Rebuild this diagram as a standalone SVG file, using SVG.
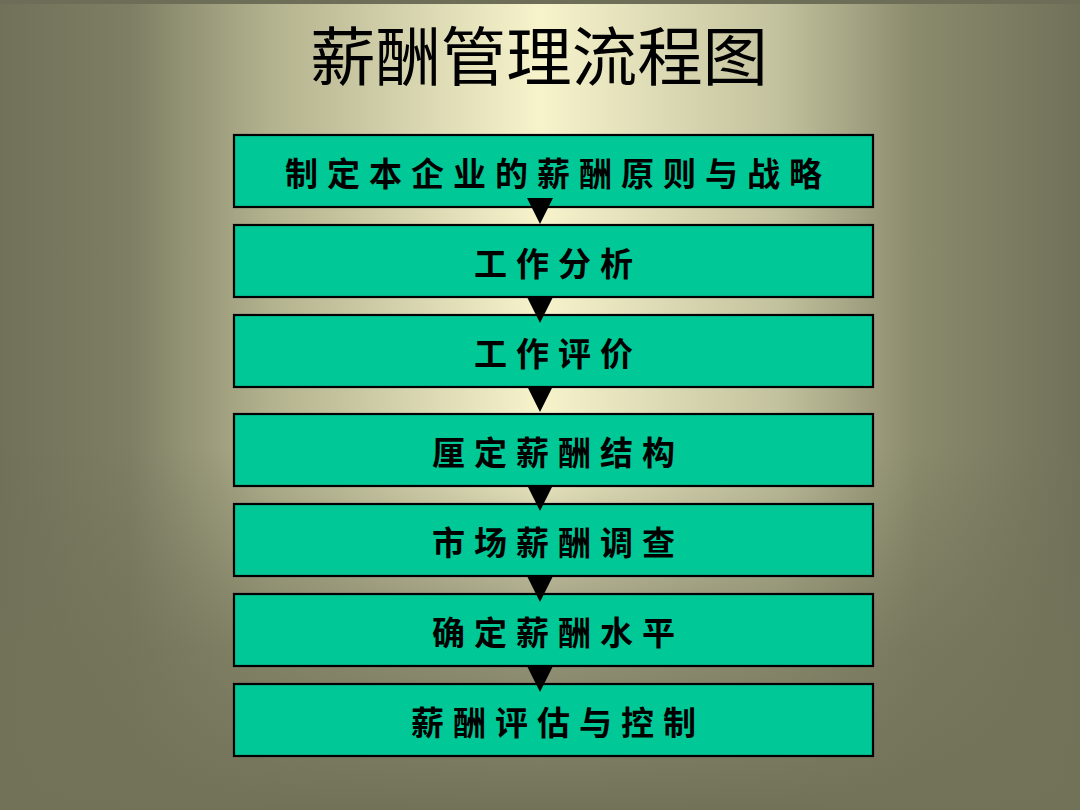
<svg xmlns="http://www.w3.org/2000/svg" width="1080" height="810" viewBox="0 0 1080 810">
<defs>
<linearGradient id="bgx" x1="0" y1="0" x2="1" y2="0">
<stop offset="0" stop-color="#71715a"/>
<stop offset="0.12" stop-color="#7e7e64"/>
<stop offset="0.25" stop-color="#b3b28e"/>
<stop offset="0.5" stop-color="#f7f4cc"/>
<stop offset="0.72" stop-color="#c3c29e"/>
<stop offset="0.85" stop-color="#8a8a6c"/>
<stop offset="1" stop-color="#71715a"/>
</linearGradient>
<linearGradient id="bgy" x1="0" y1="0" x2="0" y2="1">
<stop offset="0" stop-color="#6f6f58" stop-opacity="0"/>
<stop offset="0.55" stop-color="#6f6f58" stop-opacity="0"/>
<stop offset="0.8" stop-color="#727259" stop-opacity="0.75"/>
<stop offset="1" stop-color="#727259" stop-opacity="1"/>
</linearGradient>
<style>
.box{fill:#00c896;stroke:#000;stroke-width:2.2}
.lbl{font-family:"Noto Sans CJK SC","Noto Sans CJK JP",sans-serif;font-weight:bold;font-size:33px;fill:#000;text-anchor:middle;dominant-baseline:central;letter-spacing:9px}
.arr{fill:#000}
.title{font-family:"Noto Sans CJK SC",sans-serif;font-weight:400;font-size:64px;fill:#000;text-anchor:middle}
</style>
</defs>
<rect x="0" y="0" width="1080" height="810" fill="url(#bgx)"/>
<rect x="0" y="0" width="1080" height="810" fill="url(#bgy)"/>
<rect x="0" y="0" width="1080" height="4" fill="#6e6e58"/>
<text class="title" x="539" y="80" textLength="458" lengthAdjust="spacingAndGlyphs">薪酬管理流程图</text>
<g id="n1"><rect class="box" x="234" y="135" width="639" height="72"/><text class="lbl" x="558" y="172">制定本企业的薪酬原则与战略</text></g>
<g id="n2"><rect class="box" x="234" y="225" width="639" height="72"/><text class="lbl" x="558" y="262">工作分析</text></g>
<g id="n3"><rect class="box" x="234" y="315" width="639" height="72"/><text class="lbl" x="558" y="352">工作评价</text></g>
<g id="n4"><rect class="box" x="234" y="414" width="639" height="72"/><text class="lbl" x="558" y="451">厘定薪酬结构</text></g>
<g id="n5"><rect class="box" x="234" y="504" width="639" height="72"/><text class="lbl" x="558" y="541">市场薪酬调查</text></g>
<g id="n6"><rect class="box" x="234" y="594" width="639" height="72"/><text class="lbl" x="558" y="631">确定薪酬水平</text></g>
<g id="n7"><rect class="box" x="234" y="684" width="639" height="72"/><text class="lbl" x="558" y="721">薪酬评估与控制</text></g>
<g id="connectors">
<polygon class="arr" points="527,198 553,198 540,224"/>
<polygon class="arr" points="527,297 553,297 540,323"/>
<polygon class="arr" points="527,386 553,386 540,412"/>
<polygon class="arr" points="527,485 553,485 540,511"/>
<polygon class="arr" points="527,576 553,576 540,602"/>
<polygon class="arr" points="527,666 553,666 540,692"/>
</g>
</svg>
